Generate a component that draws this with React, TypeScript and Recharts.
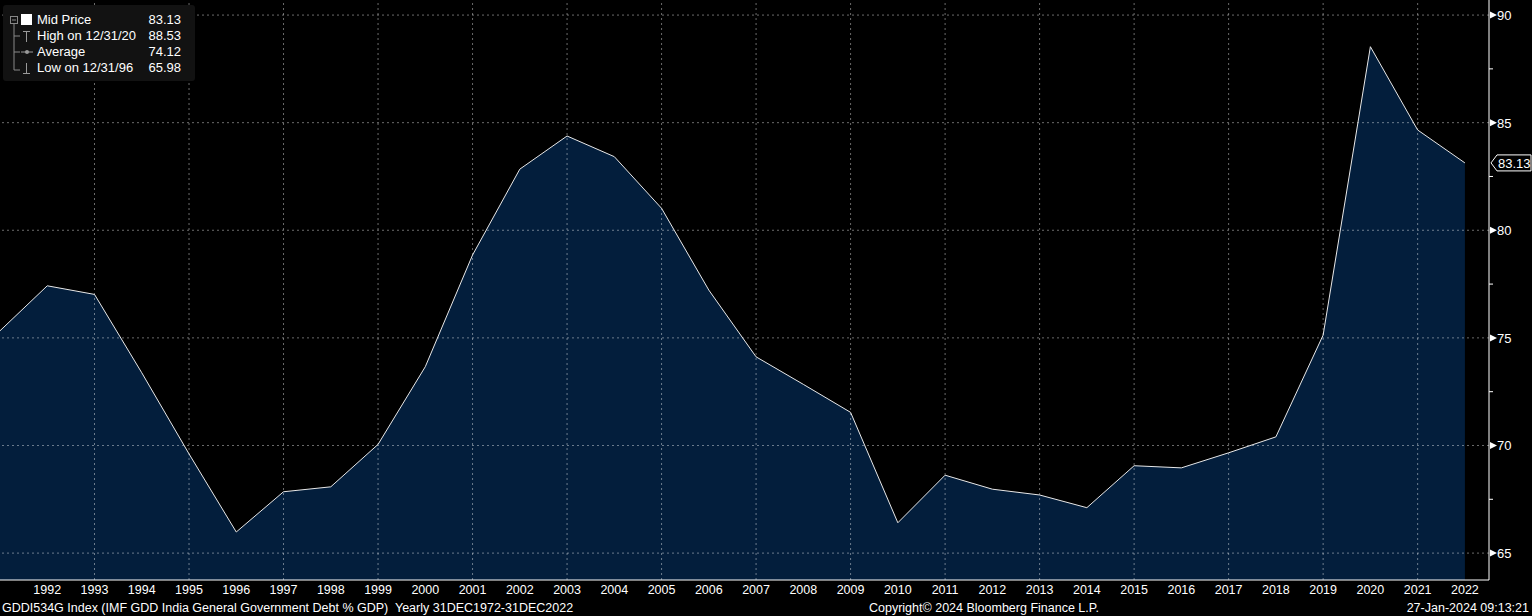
import React from "react";
import { Area, AreaChart, ReferenceLine, XAxis, YAxis } from "recharts";

const years = [
  1991, 1992, 1993, 1994, 1995, 1996, 1997, 1998, 1999, 2000, 2001, 2002, 2003, 2004, 2005, 2006,
  2007, 2008, 2009, 2010, 2011, 2012, 2013, 2014, 2015, 2016, 2017, 2018, 2019, 2020, 2021, 2022,
];
const debtPct = [
  75.33, 77.42, 77.02, 73.38, 69.61, 65.98, 67.85, 68.08, 70.05, 73.66, 78.85, 82.84, 84.38, 83.42,
  81.02, 77.22, 74.12, 72.84, 71.54, 66.41, 68.62, 67.97, 67.7, 67.11, 69.06, 68.96, 69.66, 70.4,
  75.13, 88.53, 84.66, 83.13,
];
const yearTicks = [
  1992, 1993, 1994, 1995, 1996, 1997, 1998, 1999, 2000, 2001, 2002, 2003, 2004, 2005, 2006, 2007,
  2008, 2009, 2010, 2011, 2012, 2013, 2014, 2015, 2016, 2017, 2018, 2019, 2020, 2021, 2022,
];
const gridYears = [1993, 1995, 1997, 1999, 2001, 2003, 2005, 2007, 2009, 2011, 2013, 2015, 2017, 2019, 2021];
const priceTicks = [65, 67.5, 70, 72.5, 75, 77.5, 80, 82.5, 85, 87.5, 90];
const gridPrices = [65, 70, 75, 80, 85, 90];

const legendRows = [
  { label: "Mid Price", value: "83.13" },
  { label: "High on 12/31/20", value: "88.53" },
  { label: "Average", value: "74.12" },
  { label: "Low on 12/31/96", value: "65.98" },
];

const lastValue = debtPct[debtPct.length - 1];
const data = years.map((year, i) => ({ year, v: debtPct[i] }));

const FONT = '"Liberation Sans", Arial, sans-serif';
const GRID = "rgba(255,255,255,0.42)";

function YearTick({ x, y, payload }: any) {
  return (
    <text x={x} y={y + 14} textAnchor="middle" fill="#fff" fontSize={12.5} fontFamily={FONT}>
      {payload.value}
    </text>
  );
}

function PriceTick({ x, y, payload }: any) {
  const v = payload.value;
  if (v === lastValue) {
    return (
      <g>
        <path
          d={`M${x + 2},${y} L${x + 8},${y - 8} H${x + 42} V${y + 8} H${x + 8} Z`}
          fill="#000"
          stroke="#fff"
        />
        <text x={x + 9} y={y + 5} fill="#fff" fontSize={13} fontFamily={FONT}>
          {v.toFixed(2)}
        </text>
      </g>
    );
  }
  if (v % 5 !== 0) {
    return <line x1={x} x2={x + 4} y1={y} y2={y} stroke="#fff" />;
  }
  return (
    <g>
      <path d={`M${x + 1},${y - 3.5} L${x + 8},${y} L${x + 1},${y + 3.5} Z`} fill="#fff" />
      <text x={x + 8} y={y + 5} fill="#fff" fontSize={13} fontFamily={FONT}>
        {v}
      </text>
    </g>
  );
}

function Legend() {
  return (
    <div
      style={{
        position: "absolute",
        left: 3,
        top: 5,
        width: 192,
        height: 76,
        background: "#121212",
        borderRadius: 3,
        fontFamily: FONT,
        fontSize: 13,
        color: "#fff",
      }}
    >
      <svg width={40} height={76} style={{ position: "absolute", left: 0, top: 0 }}>
        <rect x={7.5} y={11.5} width={7} height={7} fill="none" stroke="#888" />
        <line x1={9} x2={13} y1={15} y2={15} stroke="#888" />
        <line x1={11} x2={11} y1={19} y2={65} stroke="#888" />
        <line x1={11} x2={17} y1={31} y2={31} stroke="#888" />
        <line x1={11} x2={17} y1={47} y2={47} stroke="#888" />
        <line x1={11} x2={17} y1={65} y2={65} stroke="#888" />
        <rect x={18} y={9} width={11} height={11} fill="#fff" />
        <line x1={20} x2={27} y1={26.5} y2={26.5} stroke="#999" />
        <line x1={23.5} x2={23.5} y1={26} y2={37} stroke="#999" />
        <line x1={18} x2={30} y1={47} y2={47} stroke="#999" />
        <circle cx={24} cy={47} r={2} fill="#999" />
        <line x1={23.5} x2={23.5} y1={58} y2={69} stroke="#999" />
        <line x1={20} x2={27} y1={68.5} y2={68.5} stroke="#999" />
      </svg>
      {legendRows.map((r, i) => (
        <div
          key={r.label}
          style={{ position: "absolute", left: 34, top: 7 + i * 16, width: 144, height: 16, lineHeight: "16px" }}
        >
          <span>{r.label}</span>
          <span style={{ position: "absolute", right: 0 }}>{r.value}</span>
        </div>
      ))}
    </div>
  );
}

export default function App() {
  return (
    <div
      style={{
        position: "absolute",
        left: 0,
        top: 0,
        width: 1532,
        height: 616,
        background: "#000",
        overflow: "hidden",
      }}
    >
      <AreaChart width={1532} height={616} data={data} margin={{ top: 0, right: 0, left: 0, bottom: 0 }}>
        <XAxis
          dataKey="year"
          type="number"
          domain={[1991, 2022.51]}
          allowDataOverflow
          ticks={yearTicks}
          interval={0}
          height={36}
          tickSize={0}
          tickMargin={0}
          tick={<YearTick />}
          tickLine={false}
          axisLine={{ stroke: "#fff" }}
        />
        <YAxis
          orientation="right"
          width={43}
          domain={[63.75, 90.7]}
          allowDataOverflow
          ticks={[...priceTicks, lastValue]}
          interval={0}
          tickSize={0}
          tickMargin={0}
          tick={<PriceTick />}
          tickLine={false}
          axisLine={{ stroke: "#fff" }}
        />
        <Area
          type="linear"
          dataKey="v"
          stroke="#e8e8e8"
          strokeWidth={1}
          fill="#031e3c"
          fillOpacity={1}
          isAnimationActive={false}
          dot={false}
          activeDot={false}
        />
        {gridYears.map((yr) => (
          <ReferenceLine key={`x${yr}`} x={yr} stroke={GRID} strokeDasharray="2 3" />
        ))}
        {gridPrices.map((p) => (
          <ReferenceLine key={`y${p}`} y={p} stroke={GRID} strokeDasharray="2 3" />
        ))}
      </AreaChart>
      <Legend />
      <div
        style={{
          position: "absolute",
          left: 0,
          top: 601,
          width: 1532,
          height: 14,
          fontFamily: FONT,
          fontSize: 12.5,
          color: "#fff",
          lineHeight: "14px",
          whiteSpace: "pre",
        }}
      >
        <span style={{ position: "absolute", left: 2 }}>
          {"GDDI534G Index (IMF GDD India General Government Debt % GDP)  Yearly 31DEC1972-31DEC2022"}
        </span>
        <span style={{ position: "absolute", left: 869 }}>Copyright© 2024 Bloomberg Finance L.P.</span>
        <span style={{ position: "absolute", right: 3 }}>27-Jan-2024 09:13:21</span>
      </div>
    </div>
  );
}
